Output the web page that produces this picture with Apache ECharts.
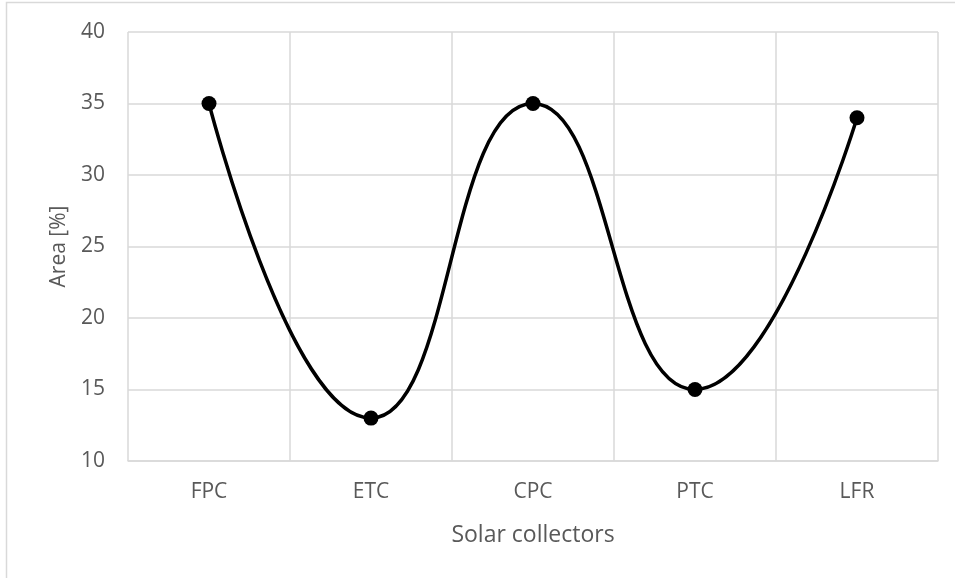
<!DOCTYPE html>
<html>
<head>
<meta charset="utf-8">
<script src="https://cdn.jsdelivr.net/npm/echarts@6/dist/echarts.min.js"></script>
<style>
html,body{margin:0;padding:0;background:#fff;}
#c{width:955px;height:578px;}
</style>
</head>
<body>
<div id="c"></div>
<script>
const categories = ['FPC', 'ETC', 'CPC', 'PTC', 'LFR'];
const areaValues = [35, 13, 35, 15, 34];
const yTicks = { min: 10, max: 40, interval: 5 };

const chart = echarts.init(document.getElementById('c'), null, { renderer: 'canvas' });
const font = '"Open Sans", "Liberation Sans", sans-serif';
chart.setOption({
  animation: false,
  backgroundColor: '#fff',
  graphic: [{
    type: 'rect',
    shape: { x: 6.5, y: 2.5, width: 1000, height: 1000 },
    style: { fill: 'none', stroke: '#d9d9d9', lineWidth: 1.5 },
    silent: true
  }],
  grid: { left: 128, right: 17, top: 32, bottom: 117, containLabel: false },
  xAxis: {
    type: 'category',
    data: categories,
    boundaryGap: true,
    name: 'Solar collectors',
    nameLocation: 'middle',
    nameGap: 63,
    nameTextStyle: { fontFamily: font, fontSize: 23, color: '#595959' },
    axisLine: { show: true, lineStyle: { color: '#d9d9d9', width: 1.5 } },
    axisTick: { show: false },
    axisLabel: { fontFamily: font, fontSize: 21, color: '#595959', margin: 21 },
    splitLine: { show: true, lineStyle: { color: '#d9d9d9', width: 1.5 } }
  },
  yAxis: {
    type: 'value',
    min: yTicks.min,
    max: yTicks.max,
    interval: yTicks.interval,
    name: 'Area [%]',
    nameLocation: 'middle',
    nameGap: 58,
    nameTextStyle: { fontFamily: font, fontSize: 21, color: '#595959' },
    axisLine: { show: false },
    axisTick: { show: false },
    axisLabel: { fontFamily: font, fontSize: 21, color: '#595959', margin: 23 },
    splitLine: { show: true, lineStyle: { color: '#d9d9d9', width: 1.5 } }
  },
  series: [{
    type: 'line',
    data: areaValues,
    smooth: 0.5,
    symbol: 'circle',
    symbolSize: 15,
    itemStyle: { color: '#000' },
    lineStyle: { color: '#000', width: 3.5 }
  }]
});
</script>
</body>
</html>
